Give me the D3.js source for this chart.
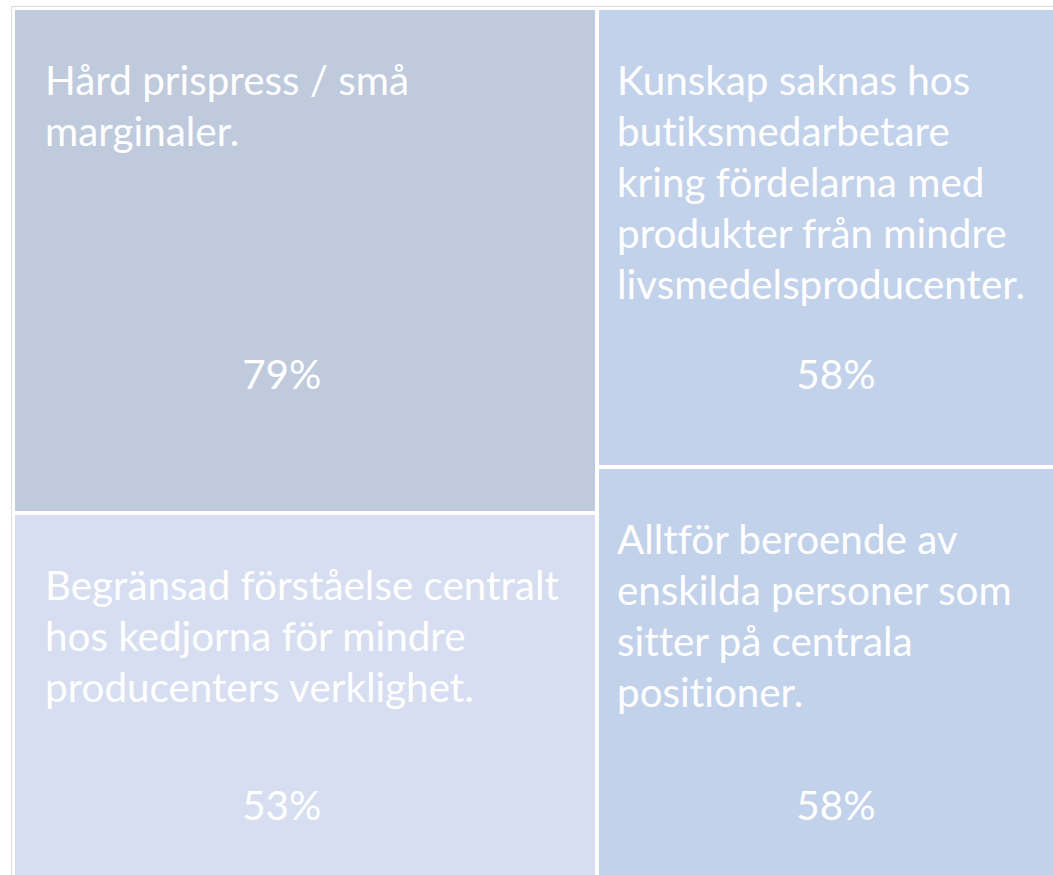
<!DOCTYPE html>
<html><head><meta charset="utf-8">
<script src="https://cdn.jsdelivr.net/npm/d3@7"></script>
<style>
html,body{margin:0;padding:0;background:#fff;overflow:hidden;}
svg{display:block;}
text{font-variant-ligatures:none;font-feature-settings:"liga" 0,"clig" 0,"dlig" 0;}
</style></head>
<body>
<svg id="chart" width="1053" height="875"></svg>
<script>
// ---- data ----
const categories = [
  "Hård prispress / små\nmarginaler.",
  "Kunskap saknas hos\nbutiksmedarbetare\nkring fördelarna med\nprodukter från mindre\nlivsmedelsproducenter.",
  "Begränsad förståelse centralt\nhos kedjorna för mindre\nproducenters verklighet.",
  "Alltför beroende av\nenskilda personer som\nsitter på centrala\npositioner."
];
const values = [79, 58, 53, 58];
const valueLabels = values.map(v => v + "%");

// ---- layout (grid placement of each cell) ----
const cellCol = [0, 1, 0, 1];
const cellRow = [0, 0, 1, 1];
const fills = ["#BFCADD", "#C3D2EB", "#D7DEF1", "#C3D2EB"];

const svg = d3.select("#chart");
const W = 1053, H = 875;

const xScale = d3.scaleLinear().domain([0, 1]).range([15, 1114]);
const colSplit = 0.5296;
const colEdges = [[0, colSplit], [colSplit, 1]];
const yScale = d3.scaleLinear().domain([0, 1]).range([10, 930]);
const rowSplits = [0.5467, 0.4967];
const gap = 4;

const cells = values.map((v, i) => {
  const c = cellCol[i], r = cellRow[i];
  const x0 = xScale(colEdges[c][0]) + (c ? gap / 2 : 0);
  const x1 = xScale(colEdges[c][1]) - (c ? 0 : gap / 2);
  const rs = rowSplits[c];
  const y0 = yScale(r ? rs : 0) + (r ? gap / 2 : 0);
  const y1 = yScale(r ? 1 : rs) - (r ? 0 : gap / 2);
  return {i, c, r, x: x0, y: y0, w: x1 - x0, h: y1 - y0, v};
});

// outer frame
svg.append("rect")
  .attr("x", 11.5).attr("y", 6.5)
  .attr("width", W + 40).attr("height", H + 40)
  .attr("fill", "none").attr("stroke", "#DCDCDC").attr("stroke-width", 1);

svg.selectAll("rect.cell").data(cells).join("rect")
  .attr("class", "cell")
  .attr("x", d => d.x).attr("y", d => d.y)
  .attr("width", d => d.w).attr("height", d => d.h)
  .attr("fill", d => fills[d.i]);

// font calibration
const fontFamily = "Lato, 'Open Sans', sans-serif";
const probe = svg.append("text").attr("font-family", fontFamily).attr("font-size", 100)
  .text("Begränsad förståelse centralt");
const probeW = probe.node().getComputedTextLength();
probe.remove();
const fs = 100 * 514 / probeW;
const lineH = 51;

const g = svg.selectAll("g.lab").data(cells).join("g").attr("class", "lab");
g.each(function(d) {
  const sel = d3.select(this);
  const tx = d.x + (d.c ? 18 : 30);
  const t = sel.append("text")
    .attr("font-family", fontFamily).attr("font-size", fs)
    .attr("fill", "#FFFFFF");
  categories[d.i].split("\n").forEach((line, k) => {
    t.append("tspan").attr("x", tx).attr("y", d.y + 85 + k * lineH).text(line);
  });
  sel.append("text")
    .attr("font-family", fontFamily).attr("font-size", fs)
    .attr("fill", "#FFFFFF")
    .attr("text-anchor", "middle")
    .attr("x", d.x + d.w * 0.46)
    .attr("y", d.r ? 820 : 389)
    .text(valueLabels[d.i]);
});
</script>
</body></html>
